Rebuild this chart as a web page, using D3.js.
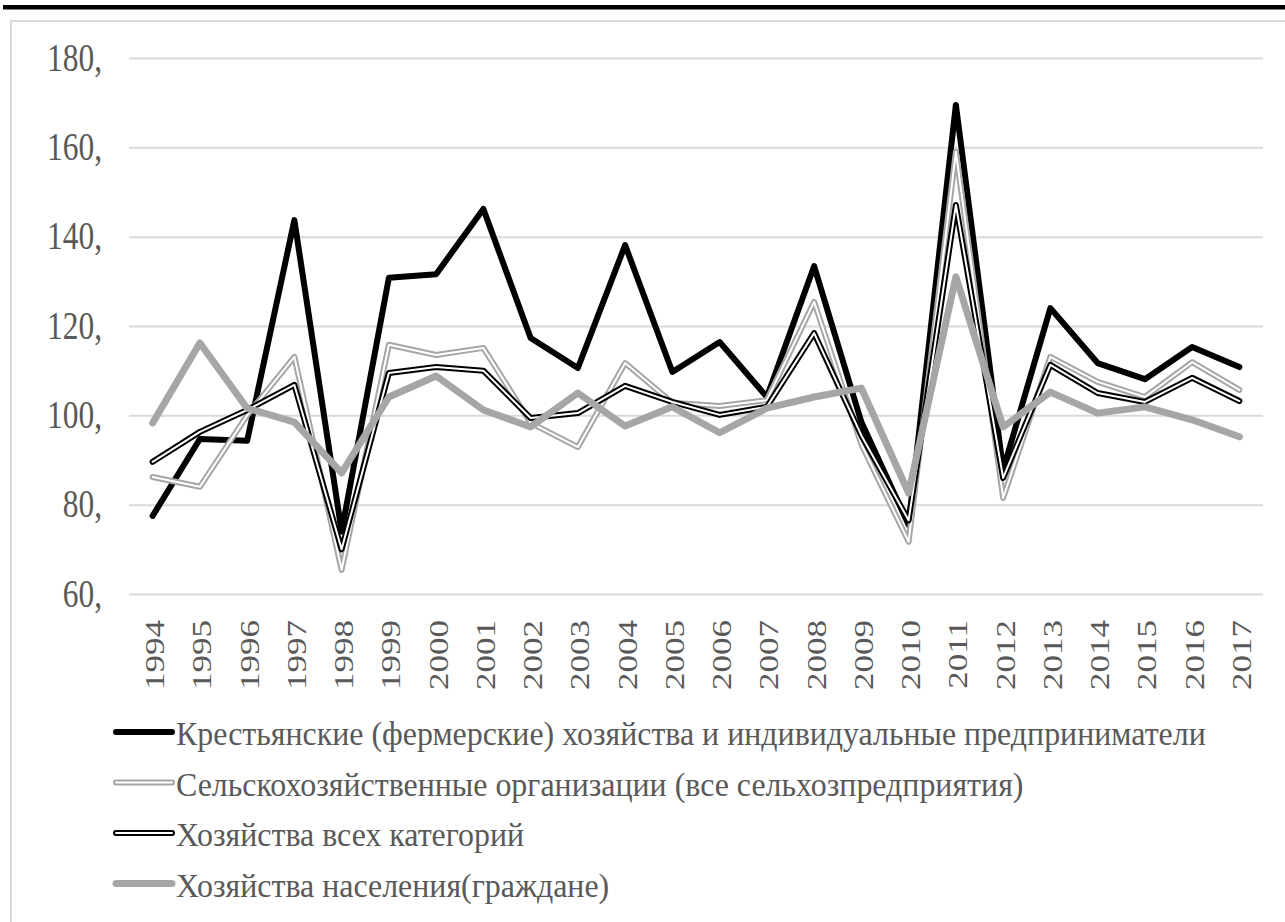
<!DOCTYPE html>
<html>
<head>
<meta charset="utf-8">
<script src="https://cdn.jsdelivr.net/npm/d3@7"></script>
<style>
  body { margin: 0; background: #fff; }
</style>
</head>
<body>
<div class="chart"></div>
<script>
// Indices by farm category, 1994-2017 (previous year = 100)
const years = ['1994', '1995', '1996', '1997', '1998', '1999', '2000', '2001', '2002', '2003', '2004', '2005',
               '2006', '2007', '2008', '2009', '2010', '2011', '2012', '2013', '2014', '2015', '2016', '2017']
const yTicks = [60, 80, 100, 120, 140, 160, 180]

const farms = [77.5, 94.7, 94.3, 143.7, 74, 130.8, 131.6, 146.2, 117.3, 110.6, 138.1, 109.7,
               116.4, 104.1, 133.4, 98.5, 75.5, 169.5, 87.8, 124.0, 111.7, 108.1, 115.3, 110.8]
const agriOrgs = [86.2, 84.0, 100, 113.1, 65.4, 115.8, 113.5, 115.1, 98.3, 92.9, 111.7, 102.8,
                  102.1, 103.4, 125.4, 93.5, 71.7, 159, 81.5, 113.1, 107.5, 104.1, 111.9, 105.7]
const allCats = [89.6, 96.3, 101.2, 106.8, 70, 109.5, 110.8, 110, 99.4, 100.5, 106.6, 103.0,
                 100.1, 101.9, 118.4, 95.5, 76.5, 147.1, 86, 111.3, 105.0, 103.0, 108.4, 103.2]
const households = [98.3, 116.2, 101.6, 98.5, 87.1, 104.1, 108.8, 101.2, 97.4, 105.0, 97.6, 101.9,
                    96.1, 101.6, 104.1, 106.1, 82.6, 131, 97.4, 105.2, 100.5, 101.9, 99.0, 95.2]

const seriesNames = [
    'Крестьянские (фермерские) хозяйства и индивидуальные предприниматели',
    'Сельскохозяйственные организации (все сельхозпредприятия)',
    'Хозяйства всех категорий',
    'Хозяйства населения(граждане)'
]

// line styles: outer stroke + optional inner white stroke for the "double" lines
const styles = [
    {outer: '#000', width: 6, inner: null},
    {outer: '#a6a6a6', width: 6, inner: '#fff'},
    {outer: '#000', width: 6, inner: '#fff'},
    {outer: '#a6a6a6', width: 7, inner: null}
]
const series = [farms, agriOrgs, allCats, households]

const W = 1285, H = 922
const serif = 'Liberation Serif'
const txtColor = '#595959'
const svg = d3.select('.chart').append('svg')
    .attr('width', W).attr('height', H)

// top rule and chart frame
svg.append('rect').attr('x', 3).attr('y', 5).attr('width', W).attr('height', 4.5).attr('fill', '#000')
svg.append('rect').attr('x', 11).attr('y', 21).attr('width', W + 20).attr('height', H + 20)
    .attr('fill', 'none').attr('stroke', '#d9d9d9').attr('stroke-width', 2)

const xScale = d3.scalePoint().domain(years).range([129, 1263]).padding(0.5)
const yScale = d3.scaleLinear().domain([60, 180]).range([594, 58])

// gridlines + y labels
const yAxis = d3.axisLeft(yScale).tickValues(yTicks).tickSize(-(1263 - 129)).tickFormat(d => d + ',')
const gy = svg.append('g').attr('transform', 'translate(129,0)').call(yAxis)
gy.select('.domain').remove()
gy.selectAll('.tick line').attr('stroke', '#d9d9d9').attr('stroke-width', 2)
const yLabels = gy.selectAll('.tick text')
    .attr('x', 0).attr('dy', null)
    .attr('text-anchor', 'end')
    .style('font-family', serif).style('font-size', '40px').style('fill', txtColor)
// squeeze so "180," is ~55px wide
const ySx = 55 / yLabels.filter(d => d === 180).node().getComputedTextLength()
yLabels.attr('transform', 'translate(-27,12) scale(' + ySx + ',1)')

// x labels, rotated
const xAxis = d3.axisBottom(xScale).tickSize(0)
const gx = svg.append('g').attr('transform', 'translate(0,594)').call(xAxis)
gx.select('.domain').remove()
gx.selectAll('.tick text')
    .attr('y', 0).attr('dy', null)
    .attr('text-anchor', 'end')
    .style('font-family', serif).style('font-size', '35px').style('fill', txtColor)
    .attr('transform', 'translate(0,26) rotate(-90) translate(0,11) scale(1,0.8)')

// lines
const line = d3.line().x((d, i) => xScale(years[i])).y(d => yScale(d))
series.forEach((vals, k) => {
    const st = styles[k]
    svg.append('path').datum(vals).attr('d', line)
        .attr('fill', 'none').attr('stroke', st.outer).attr('stroke-width', st.width)
        .attr('stroke-linejoin', 'round').attr('stroke-linecap', 'round')
    if (st.inner) {
        svg.append('path').datum(vals).attr('d', line)
            .attr('fill', 'none').attr('stroke', st.inner).attr('stroke-width', 2)
            .attr('stroke-linejoin', 'round').attr('stroke-linecap', 'round')
    }
})

// legend
const legend = svg.append('g')
const legendTexts = []
seriesNames.forEach((name, k) => {
    const st = styles[k]
    const y = 732 + k * 50.5
    legend.append('line').attr('x1', 116).attr('x2', 172).attr('y1', y).attr('y2', y)
        .attr('stroke', st.outer).attr('stroke-width', st.width).attr('stroke-linecap', 'round')
    if (st.inner) {
        legend.append('line').attr('x1', 116).attr('x2', 172).attr('y1', y).attr('y2', y)
            .attr('stroke', st.inner).attr('stroke-width', 2).attr('stroke-linecap', 'round')
    }
    legendTexts.push(legend.append('text').text(name)
        .style('font-family', serif).style('font-size', '33px').style('fill', txtColor)
        .attr('data-y', y + 13))
})
// first entry spans ~1030px in the reference
const lSx = 1030 / legendTexts[0].node().getComputedTextLength()
legendTexts.forEach(t => t.attr('transform', 'translate(176,' + t.attr('data-y') + ') scale(' + lSx + ',1)'))
</script>
</body>
</html>
